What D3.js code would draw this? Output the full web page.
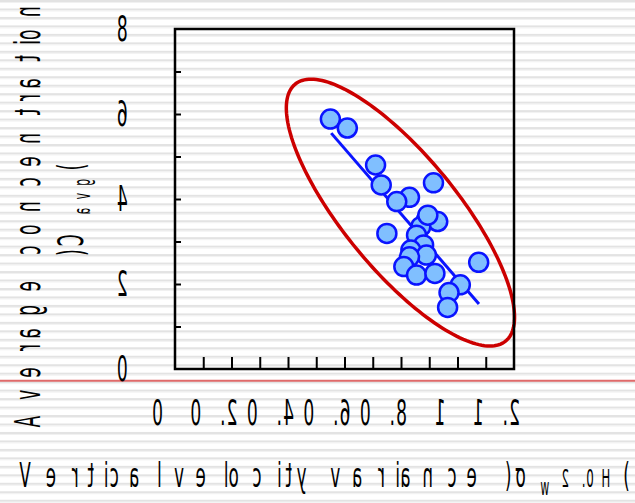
<!DOCTYPE html>
<html>
<head>
<meta charset="utf-8">
<script src="https://cdn.jsdelivr.net/npm/d3@7"></script>
<style>
  html, body { margin: 0; padding: 0; background: #fff; }
  svg { display: block; }
</style>
</head>
<body>
<svg id="chart" width="635" height="503"></svg>
<script>
// Observations: vertical velocity variance vs. average concentration
const velocityVariance = [0.55, 0.61, 0.71, 0.73, 0.915, 0.83, 0.785, 0.75, 0.89, 0.93, 0.87, 0.855,
                          0.88, 0.835, 0.89, 0.83, 0.81, 0.855, 0.92, 1.075, 1.01, 0.97, 0.965, 0.895];
const avgConcentration = [5.88, 5.67, 4.80, 4.33, 4.38, 4.04, 3.94, 3.19, 3.51, 3.47, 3.35, 3.15,
                          2.92, 2.80, 2.68, 2.64, 2.41, 2.21, 2.25, 2.51, 1.98, 1.80, 1.45, 3.62];

// Least-squares fit segment (end points)
const fitX = [0.553, 1.076];
const fitY = [5.55, 1.53];

// Confidence ellipse: centre, end of major semi-axis, end of minor semi-axis
const ellipseCenter = [0.798, 3.68];
const ellipseMajorTip = [0.425, 6.70];
const ellipseMinorTip = [0.953, 4.536];

// Axes
const xDomain = [0, 1.2];
const yDomain = [0, 8];
const xTickValues = [0, 0.2, 0.4, 0.6, 0.8, 1, 1.2];
const xTickLabels = ["0", "0.2", "0.4", "0.6", "0.8", "1", "1.2"];
const xMinorTicks = [0.1, 0.2, 0.3, 0.4, 0.5, 0.6, 0.7, 0.8, 0.9, 1.0, 1.1];
const yTickValues = [0, 2, 4, 6, 8];
const yTickLabels = ["0", "2", "4", "6", "8"];
const yMinorTicks = [1, 2, 3, 4, 5, 6, 7];

const xTitle = [
  { text: "Vertical velocity variance (σ", size: 37, dy: 0 },
  { text: "w", size: 24, dy: 8 },
  { text: "2.0H", size: 26, dy: 0 },
  { text: ")", size: 37, dy: 0 }
];
const yTitleLine1 = [{ text: "Average concentration", size: 38, dy: 0 }];
const yTitleLine2 = [
  { text: "(", size: 38, dy: 0 },
  { text: "C", size: 38, dy: 0 },
  { text: "avg", size: 24, dy: 7 },
  { text: ")", size: 38, dy: 0 }
];

const W = 635, H = 503;
const plot = { left: 175, right: 514, top: 29, bottom: 369 };
const FONT = "'DejaVu Sans', Verdana, sans-serif";
const GLYPH_SX = 0.45;   // horizontal glyph squeeze (mirrored)
const GLYPH_SY = 0.93;

const svg = d3.select("#chart");

// ruled-paper background
const bg = svg.append("g").attr("class", "paper");
bg.append("rect").attr("width", W).attr("height", H).attr("fill", "#ffffff");
const rulePitch = 8.47;
const rules = d3.range(0, H, rulePitch);
bg.selectAll("rect.rule").data(rules).join("rect").attr("class", "rule")
  .attr("x", 0).attr("width", W).attr("y", d => d).attr("height", 2).attr("fill", "#e3e3e3");
bg.selectAll("rect.rule2").data(rules).join("rect").attr("class", "rule2")
  .attr("x", 0).attr("width", W).attr("y", d => d + 2).attr("height", 1).attr("fill", "#f1f1f1");
bg.append("line").attr("x1", 0).attr("x2", W).attr("y1", 380.7).attr("y2", 380.7)
  .attr("stroke", "#e06a6a").attr("stroke-width", 2);

const x = d3.scaleLinear().domain(xDomain).range([plot.left, plot.right]);
const y = d3.scaleLinear().domain(yDomain).range([plot.bottom, plot.top]);

// text measuring + mirrored glyph layout
const measurer = svg.append("text").attr("visibility", "hidden").style("font-family", FONT);
function advance(ch, size) {
  measurer.style("font-size", size + "px").text(ch === " " ? "\u00a0" : ch);
  return measurer.node().getComputedTextLength();
}
function mirroredText(parent, segments, px, py, anchor) {
  const glyphs = [];
  let cursor = 0;
  segments.forEach(seg => {
    for (const ch of seg.text) {
      const w = advance(ch, seg.size);
      glyphs.push({ ch, size: seg.size, dy: seg.dy || 0, o: cursor, w });
      cursor += w;
    }
  });
  const start = anchor === "middle" ? px - cursor / 2 : anchor === "end" ? px - cursor : px;
  const g = parent.append("g").attr("class", "label");
  g.selectAll("text").data(glyphs.filter(d => d.ch !== " ")).join("text")
    .attr("transform", d => `translate(${start + d.o},${py + d.dy}) scale(${-GLYPH_SX},${GLYPH_SY})`)
    .style("font-family", FONT)
    .style("font-size", d => d.size + "px")
    .attr("fill", "#000")
    .text(d => d.ch);
  return g;
}

// confidence ellipse (affine parametrisation in data space)
const ellipsePts = d3.range(0, 2 * Math.PI + 0.001, Math.PI / 90).map(t => [
  ellipseCenter[0] + (ellipseMajorTip[0] - ellipseCenter[0]) * Math.cos(t) + (ellipseMinorTip[0] - ellipseCenter[0]) * Math.sin(t),
  ellipseCenter[1] + (ellipseMajorTip[1] - ellipseCenter[1]) * Math.cos(t) + (ellipseMinorTip[1] - ellipseCenter[1]) * Math.sin(t)
]);
svg.append("path")
  .attr("d", d3.line().x(d => x(d[0])).y(d => y(d[1])).curve(d3.curveLinearClosed)(ellipsePts))
  .attr("fill", "none").attr("stroke", "#cc0000").attr("stroke-width", 3.5);

// fit line
svg.append("line")
  .attr("x1", x(fitX[0])).attr("y1", y(fitY[0]))
  .attr("x2", x(fitX[1])).attr("y2", y(fitY[1]))
  .attr("stroke", "#0a14ff").attr("stroke-width", 3);

// points
svg.append("g").selectAll("circle").data(velocityVariance.map((v, i) => [v, avgConcentration[i]]))
  .join("circle")
  .attr("cx", d => x(d[0])).attr("cy", d => y(d[1])).attr("r", 9.5)
  .attr("fill", "#80bfff").attr("stroke", "#0a14ff").attr("stroke-width", 2.5);

// inward ticks
const xAxis = d3.axisBottom(x).tickValues(xMinorTicks).tickSizeInner(-12).tickSizeOuter(0).tickFormat("");
const gx = svg.append("g").attr("transform", `translate(0,${plot.bottom})`).call(xAxis);
const yAxis = d3.axisLeft(y).tickValues(yMinorTicks).tickSizeInner(-6).tickSizeOuter(0).tickFormat("");
const gy = svg.append("g").attr("transform", `translate(${plot.left},0)`).call(yAxis);
[gx, gy].forEach(g => {
  g.select(".domain").remove();
  g.selectAll(".tick line").attr("stroke", "#000").attr("stroke-width", 2);
});

// frame
svg.append("rect")
  .attr("x", plot.left).attr("y", plot.top)
  .attr("width", plot.right - plot.left).attr("height", plot.bottom - plot.top)
  .attr("fill", "none").attr("stroke", "#000").attr("stroke-width", 2.5);

// tick labels
const tickLabels = svg.append("g").attr("class", "tick-labels");
xTickValues.forEach((v, i) => mirroredText(tickLabels, [{ text: xTickLabels[i], size: 38 }], x(v), 425, "middle"));
yTickValues.forEach((v, i) => mirroredText(tickLabels, [{ text: yTickLabels[i], size: 38 }], plot.left - 23, y(v) + 12, "end"));

// axis titles
mirroredText(svg, xTitle, (plot.left + plot.right) / 2 - 7, 487, "middle");
const yt1 = svg.append("g").attr("transform", `translate(40,${(plot.top + plot.bottom) / 2}) rotate(-90)`);
mirroredText(yt1, yTitleLine1, 0, 0, "middle");
const yt2 = svg.append("g").attr("transform", `translate(83,${(plot.top + plot.bottom) / 2}) rotate(-90)`);
mirroredText(yt2, yTitleLine2, 0, 0, "middle");

measurer.remove();
</script>
</body>
</html>
